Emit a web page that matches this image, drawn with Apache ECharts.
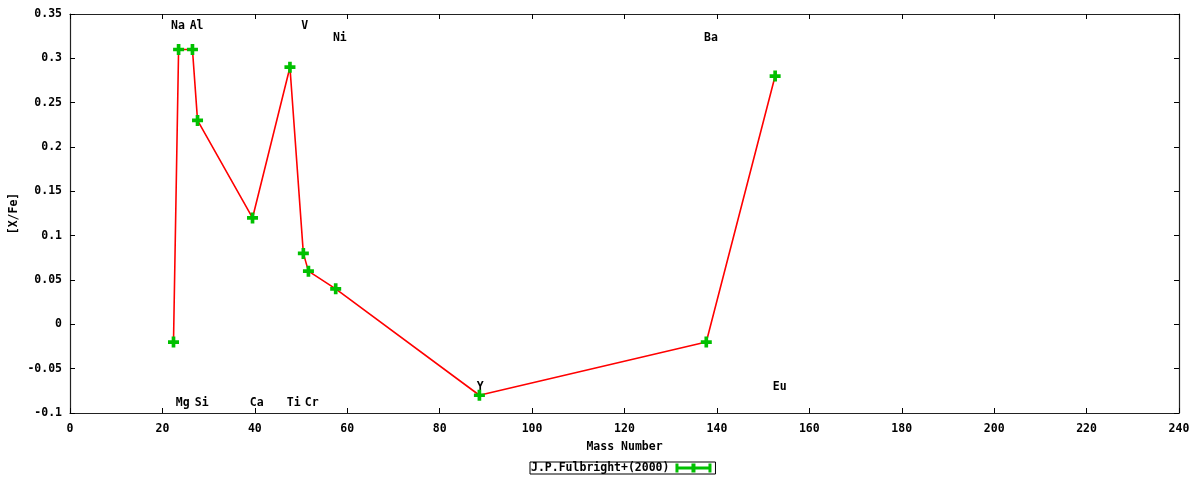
<!DOCTYPE html>
<html>
<head>
<meta charset="utf-8">
<script src="https://cdn.jsdelivr.net/npm/echarts@6/dist/echarts.min.js"></script>
<style>html,body{margin:0;padding:0;background:#fff}#c{width:1200px;height:480px}</style>
</head>
<body>
<div id="c"></div>
<script>
// Data
const massNumber = [22.4, 23.5, 26.5, 27.6, 39.5, 47.6, 50.5, 51.6, 57.5, 88.6, 137.7, 152.6];
const xFe        = [-0.02, 0.31, 0.31, 0.23, 0.12, 0.29, 0.08, 0.06, 0.04, -0.08, -0.02, 0.28];
const elementNames = ['Na', 'Al', 'V', 'Ni', 'Ba', 'Mg', 'Si', 'Ca', 'Ti', 'Cr', 'Y', 'Eu'];
const elementLabelX = [23.35, 27.4, 50.8, 58.4, 138.7, 24.4, 28.5, 40.4, 48.4, 52.3, 88.8, 153.6];
const elementLabelY = [0.3364, 0.3364, 0.3364, 0.323, 0.323, -0.0884, -0.0884, -0.0884, -0.0884, -0.0884, -0.0703, -0.0703];
const seriesName = 'J.P.Fulbright+(2000)';

const FONT = 'DejaVu Sans Mono';
const FS = 11.5;
const chart = echarts.init(document.getElementById('c'), null, {renderer: 'canvas'});
const lineData = massNumber.map((x, i) => [x, xFe[i]]);
const labelData = elementNames.map((n, i) => ({name: n, value: [elementLabelX[i], elementLabelY[i]]}));
const fmt = v => String(+Number(v).toFixed(3));
const tickStyle = {show: true, inside: true, length: 5, lineStyle: {color: '#000', width: 1}};
const axisLineStyle = {show: true, onZero: false, lineStyle: {color: '#222', width: 1.2}};
const plus = 'path://M4,0H8V4H12V8H8V12H4V8H0V4H4Z';

chart.setOption({
  animation: false,
  backgroundColor: '#fff',
  textStyle: {fontFamily: FONT, fontWeight: 'bold', fontSize: FS, color: '#000'},
  grid: {left: 70, right: 21, top: 14, bottom: 67, show: false, outerBoundsMode: 'none', containLabel: false},
  legend: {
    left: 530, top: 462,
    data: [{name: seriesName, icon: 'path://M0,3H36V6H0Z M0,0H3V9H0Z M33,0H36V9H33Z M16,0H20V9H16Z'}],
    align: 'right',
    itemWidth: 36, itemHeight: 9, itemGap: 0,
    padding: [0, 4, 0, 1],
    borderColor: '#000', borderWidth: 1,
    itemStyle: {color: '#00c000', borderWidth: 0},
    textStyle: {fontFamily: FONT, fontWeight: 'bold', fontSize: FS, color: '#000', padding: [0, 1, 0, 0]}
  },
  xAxis: [{
    type: 'value', min: 0, max: 240, interval: 20, position: 'bottom',
    name: 'Mass Number', nameLocation: 'middle', nameGap: 28, nameMoveOverlap: false,
    nameTextStyle: {fontFamily: FONT, fontWeight: 'bold', fontSize: FS, color: '#000'},
    axisLine: axisLineStyle,
    axisTick: tickStyle, splitLine: {show: false},
    axisLabel: {margin: 10, color: '#000', fontFamily: FONT, fontWeight: 'bold', fontSize: FS, formatter: fmt}
  }, {
    type: 'value', min: 0, max: 240, interval: 20, position: 'top',
    axisLine: axisLineStyle,
    axisTick: tickStyle, splitLine: {show: false}, axisLabel: {show: false}
  }],
  yAxis: [{
    type: 'value', min: -0.1, max: 0.35, interval: 0.05, position: 'left',
    name: '[X/Fe]', nameLocation: 'middle', nameGap: 50, nameRotate: 90, nameMoveOverlap: false,
    nameTextStyle: {fontFamily: FONT, fontWeight: 'bold', fontSize: FS, color: '#000'},
    axisLine: axisLineStyle,
    axisTick: tickStyle, splitLine: {show: false},
    axisLabel: {margin: 8, color: '#000', fontFamily: FONT, fontWeight: 'bold', fontSize: FS, formatter: fmt}
  }, {
    type: 'value', min: -0.1, max: 0.35, interval: 0.05, position: 'right',
    axisLine: axisLineStyle,
    axisTick: tickStyle, splitLine: {show: false}, axisLabel: {show: false}
  }],
  series: [{
    name: 'labels', type: 'scatter', data: labelData,
    xAxisIndex: 0, yAxisIndex: 0,
    symbol: 'circle', symbolSize: 0.1, itemStyle: {color: '#ffffff', opacity: 1}, silent: true,
    label: {show: true, position: 'inside', formatter: '{b}', color: '#000', opacity: 1,
      textBorderWidth: 0, fontFamily: FONT, fontWeight: 'bold', fontSize: FS},
    emphasis: {disabled: true},
    z: 2
  }, {
    name: seriesName, type: 'line', data: lineData,
    xAxisIndex: 0, yAxisIndex: 0,
    lineStyle: {color: '#ff0000', width: 1.6},
    symbol: plus, symbolSize: 11, showAllSymbol: true,
    itemStyle: {color: '#00c000', borderWidth: 0},
    z: 3
  }]
});
</script>
</body>
</html>
